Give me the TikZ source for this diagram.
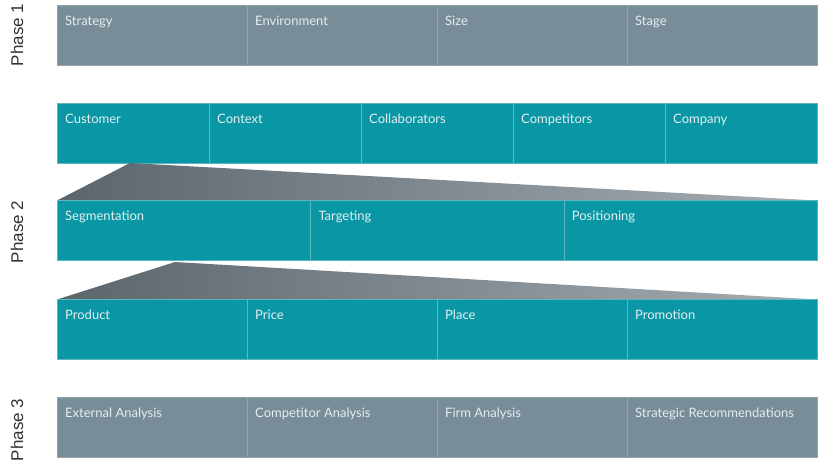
\documentclass[tikz,border=0pt]{standalone}
\usepackage{fontspec}
\setmainfont{Lato}
\newfontfamily\phasefont{Liberation Sans}
\definecolor{cgrey}{HTML}{788D97}
\definecolor{cgreyline}{HTML}{93A3AB}
\definecolor{cteal}{HTML}{0A97A5}
\definecolor{ctealline}{HTML}{5DB5BF}
\definecolor{ctxt}{HTML}{E4EEF1}
\definecolor{shadeL}{HTML}{5B666C}
\definecolor{shadeR}{HTML}{A5ADB3}
\begin{document}
\begin{tikzpicture}[x=1pt,y=-1pt,
  greycell/.style={rectangle, fill=cgrey, draw=cgreyline, line width=0.8pt, anchor=north west, inner sep=0pt, minimum height=60pt},
  tealcell/.style={rectangle, fill=cteal, draw=ctealline, line width=0.8pt, anchor=north west, inner sep=0pt, minimum height=60pt},
  lbl/.style={anchor=base west, inner sep=0pt, text=ctxt, font=\fontsize{13}{15}\selectfont, xshift=8pt, yshift=-20.5pt},
  phase/.style={rotate=90, font=\phasefont\fontsize{17}{20}\selectfont, text=black!80}]
\useasboundingbox (0,0) rectangle (830,467);
% Phase labels
\node[phase] (p1) at (17,35) {Phase 1};
\node[phase] (p2) at (17,232) {Phase 2};
\node[phase] (p3) at (17,430) {Phase 3};
% Row 1
\node[greycell, minimum width=190pt] (a1) at (57,5) {};
\node[greycell, minimum width=190pt] (a2) at (247,5) {};
\node[greycell, minimum width=190pt] (a3) at (437,5) {};
\node[greycell, minimum width=190pt] (a4) at (627,5) {};
\node[lbl] at (a1.north west) {Strategy};
\node[lbl] at (a2.north west) {Environment};
\node[lbl] at (a3.north west) {Size};
\node[lbl] at (a4.north west) {Stage};
% Row 2
\node[tealcell, minimum width=152pt] (b1) at (57,103) {};
\node[tealcell, minimum width=152pt] (b2) at (209,103) {};
\node[tealcell, minimum width=152pt] (b3) at (361,103) {};
\node[tealcell, minimum width=152pt] (b4) at (513,103) {};
\node[tealcell, minimum width=152pt] (b5) at (665,103) {};
\node[lbl] at (b1.north west) {Customer};
\node[lbl] at (b2.north west) {Context};
\node[lbl] at (b3.north west) {Collaborators};
\node[lbl] at (b4.north west) {Competitors};
\node[lbl] at (b5.north west) {Company};
% Funnel 1
\coordinate (f1) at (130,163);
\shade[left color=shadeL, right color=shadeR] (f1) -- (817,200.5) -- (57,200.5) -- cycle;
% Row 3
\node[tealcell, minimum width=253.33pt] (c1) at (57,200) {};
\node[tealcell, minimum width=253.33pt] (c2) at (310.33,200) {};
\node[tealcell, minimum width=253.33pt] (c3) at (563.67,200) {};
\node[lbl] at (c1.north west) {Segmentation};
\node[lbl] at (c2.north west) {Targeting};
\node[lbl] at (c3.north west) {Positioning};
% Funnel 2
\coordinate (f2) at (175,262);
\shade[left color=shadeL, right color=shadeR] (f2) -- (817,299.5) -- (57,299.5) -- cycle;
% Row 4
\node[tealcell, minimum width=190pt] (d1) at (57,299) {};
\node[tealcell, minimum width=190pt] (d2) at (247,299) {};
\node[tealcell, minimum width=190pt] (d3) at (437,299) {};
\node[tealcell, minimum width=190pt] (d4) at (627,299) {};
\node[lbl] at (d1.north west) {Product};
\node[lbl] at (d2.north west) {Price};
\node[lbl] at (d3.north west) {Place};
\node[lbl] at (d4.north west) {Promotion};
% Row 5
\node[greycell, minimum width=190pt] (e1) at (57,397) {};
\node[greycell, minimum width=190pt] (e2) at (247,397) {};
\node[greycell, minimum width=190pt] (e3) at (437,397) {};
\node[greycell, minimum width=190pt] (e4) at (627,397) {};
\node[lbl] at (e1.north west) {External Analysis};
\node[lbl] at (e2.north west) {Competitor Analysis};
\node[lbl] at (e3.north west) {Firm Analysis};
\node[lbl] at (e4.north west) {Strategic Recommendations};
\end{tikzpicture}
\end{document}
